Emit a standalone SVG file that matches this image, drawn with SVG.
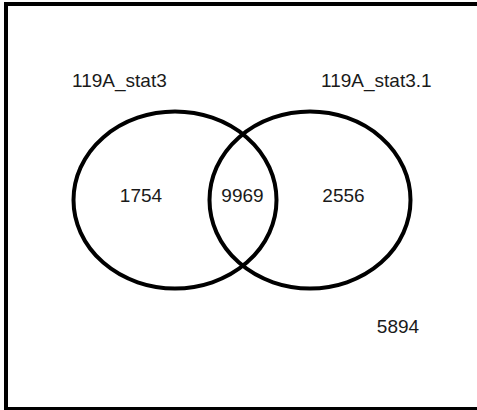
<svg xmlns="http://www.w3.org/2000/svg" width="477" height="410" viewBox="0 0 477 410">
  <style>
    .frame { fill: #ffffff; stroke: #000000; stroke-width: 4; }
    .set { fill: none; stroke: #000000; stroke-width: 4; }
    .lbl { font-family: "Liberation Sans", Arial, sans-serif; font-size: 19px; fill: #1a1a1a; }
    .num { font-family: "Liberation Sans", Arial, sans-serif; font-size: 19px; fill: #1a1a1a; text-anchor: middle; }
  </style>
  <rect class="frame" x="6" y="4" width="476" height="405"/>
  <g id="set-stat3">
    <ellipse class="set" cx="175" cy="200" rx="101.5" ry="88.5"/>
    <text class="lbl" x="72" y="87">119A_stat3</text>
    <text class="num" x="141" y="202">1754</text>
  </g>
  <g id="set-stat3-1">
    <ellipse class="set" cx="310" cy="200" rx="100.5" ry="88.5"/>
    <text class="lbl" x="321" y="87">119A_stat3.1</text>
    <text class="num" x="343.5" y="202">2556</text>
  </g>
  <g id="overlap">
    <text class="num" x="242.5" y="202">9969</text>
  </g>
  <g id="outside">
    <text class="num" x="398" y="333">5894</text>
  </g>
</svg>
